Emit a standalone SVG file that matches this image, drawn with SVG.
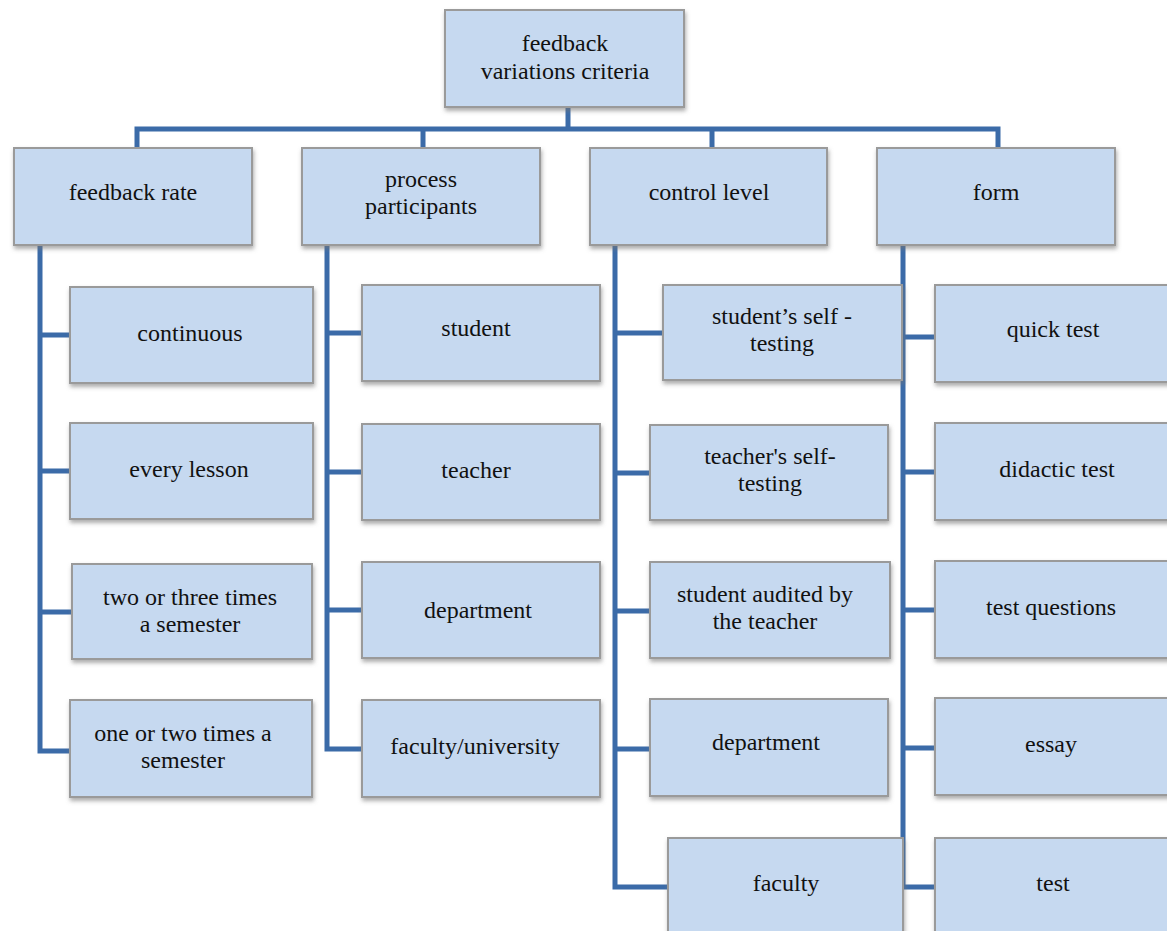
<svg xmlns="http://www.w3.org/2000/svg" width="1167" height="931" viewBox="0 0 1167 931" font-family="Liberation Serif, serif">
<style>
.box{fill:#c6d9f0;stroke:#9a9a9a;stroke-width:2;filter:url(#sh)}
.lbl{font-size:24px;fill:#111;text-anchor:middle}
.con{fill:none;stroke:#3b6ba8;stroke-width:5;stroke-linejoin:miter}
</style>
<defs>
<filter id="sh" x="-10%" y="-10%" width="125%" height="130%">
<feDropShadow dx="1" dy="3" stdDeviation="2" flood-color="#777" flood-opacity="0.6"/>
</filter>
</defs>
<rect width="1167" height="931" fill="#ffffff"/>
<g id="connectors">
<path class="con" d="M568 107V129"/>
<path class="con" d="M137 148V129H998V148M423 129V148M712 129V148"/>
<path class="con" d="M40 245V751H72M40 335H72M40 471H72M40 612H74"/>
<path class="con" d="M327 245V749H363M327 333H363M327 472H363M327 610H363"/>
<path class="con" d="M615 245V887H669M615 333H664M615 473H651M615 611H651M615 749H651"/>
<path class="con" d="M903 245V887H936M903 337H936M903 472H936M903 610H936M903 748H936"/>
</g>
<g id="root"><rect class="box" x="445" y="10" width="239" height="97"/><text class="lbl" x="565" y="51">feedback</text><text class="lbl" x="565" y="79">variations criteria</text></g>
<g id="n-rate"><rect class="box" x="14" y="148" width="238" height="97"/><text class="lbl" x="133" y="200">feedback rate</text></g>
<g id="n-part"><rect class="box" x="302" y="148" width="238" height="97"/><text class="lbl" x="421" y="187">process</text><text class="lbl" x="421" y="214">participants</text></g>
<g id="n-ctrl"><rect class="box" x="590" y="148" width="237" height="97"/><text class="lbl" x="709" y="200">control level</text></g>
<g id="n-form"><rect class="box" x="877" y="148" width="238" height="97"/><text class="lbl" x="996" y="200">form</text></g>

<g id="r1"><rect class="box" x="70" y="287" width="243" height="96"/><text class="lbl" x="190" y="341">continuous</text></g>
<g id="r2"><rect class="box" x="70" y="423" width="243" height="96"/><text class="lbl" x="189" y="477">every lesson</text></g>
<g id="r3"><rect class="box" x="72" y="564" width="240" height="95"/><text class="lbl" x="190" y="605">two or three times</text><text class="lbl" x="190" y="632">a semester</text></g>
<g id="r4"><rect class="box" x="70" y="700" width="242" height="97"/><text class="lbl" x="183" y="741">one or two times a</text><text class="lbl" x="183" y="768">semester</text></g>

<g id="p1"><rect class="box" x="362" y="285" width="238" height="96"/><text class="lbl" x="476" y="336">student</text></g>
<g id="p2"><rect class="box" x="362" y="424" width="238" height="96"/><text class="lbl" x="476" y="478">teacher</text></g>
<g id="p3"><rect class="box" x="362" y="562" width="238" height="96"/><text class="lbl" x="478" y="618">department</text></g>
<g id="p4"><rect class="box" x="362" y="700" width="238" height="97"/><text class="lbl" x="475" y="754">faculty/university</text></g>

<g id="c1"><rect class="box" x="663" y="285" width="239" height="95"/><text class="lbl" x="782" y="324">student’s self -</text><text class="lbl" x="782" y="351">testing</text></g>
<g id="c2"><rect class="box" x="650" y="425" width="238" height="95"/><text class="lbl" x="770" y="464">teacher's self-</text><text class="lbl" x="770" y="491">testing</text></g>
<g id="c3"><rect class="box" x="650" y="562" width="240" height="96"/><text class="lbl" x="765" y="602">student audited by</text><text class="lbl" x="765" y="629">the teacher</text></g>
<g id="c4"><rect class="box" x="650" y="699" width="238" height="97"/><text class="lbl" x="766" y="750">department</text></g>
<g id="c5"><rect class="box" x="668" y="838" width="235" height="100"/><text class="lbl" x="786" y="891">faculty</text></g>

<g id="f1"><rect class="box" x="935" y="285" width="240" height="97"/><text class="lbl" x="1053" y="337">quick test</text></g>
<g id="f2"><rect class="box" x="935" y="423" width="240" height="97"/><text class="lbl" x="1057" y="477">didactic test</text></g>
<g id="f3"><rect class="box" x="935" y="561" width="240" height="97"/><text class="lbl" x="1051" y="615">test questions</text></g>
<g id="f4"><rect class="box" x="935" y="698" width="240" height="97"/><text class="lbl" x="1051" y="752">essay</text></g>
<g id="f5"><rect class="box" x="935" y="838" width="240" height="100"/><text class="lbl" x="1053" y="891">test</text></g>
</svg>
